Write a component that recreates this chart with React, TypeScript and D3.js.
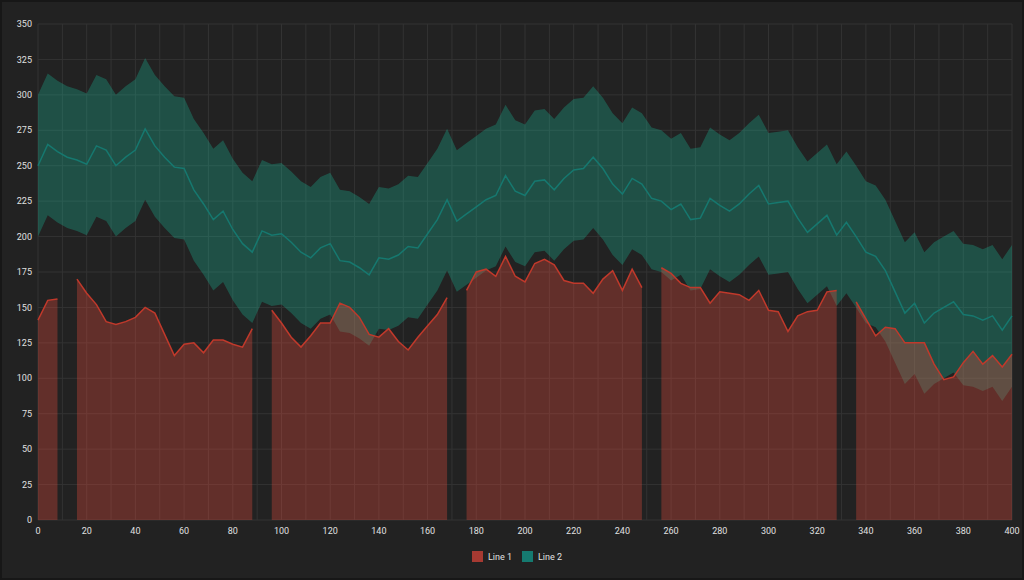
import React, { useEffect, useRef } from "react";
import * as d3 from "d3";

// x runs 0..400 in steps of 4
const xValues: number[] = d3.range(0, 401, 4);

// Line 1 (null = gap)
const line1: (number | null)[] = [
  141, 155, 156, null, 170, 160, 152, 140, 138, 140, 143, 150, 146, 131, 116, 124, 125, 118, 127, 127,
  124, 122, 135, null, 148, 139, 129, 122, 130, 139, 139, 153, 150, 143, 131, 129, 135, 126, 120, 129,
  137, 145, 157, null, 162, 175, 177, 172, 186, 172, 168, 181, 184, 180, 169, 167, 167, 160, 170, 176,
  162, 177, 164, null, 178, 174, 167, 164, 164, 153, 161, 160, 159, 155, 162, 148, 147, 133, 144, 147,
  148, 161, 162, null, 154, 142, 130, 136, 135, 125, 125, 125, 110, 99, 101, 111, 119, 110, 116, 108,
  117,
];

// Line 2 centre; band is centre ± bandWidth
const line2: number[] = [
  250, 265, 260, 256, 254, 251, 264, 261, 250, 256, 261, 276, 264, 256, 249, 248, 233, 223, 212, 218,
  205, 195, 189, 204, 201, 202, 196, 189, 185, 192, 195, 183, 182, 178, 173, 185, 184, 187, 193, 192,
  202, 212, 226, 211, 216, 221, 226, 229, 243, 232, 229, 239, 240, 233, 241, 247, 248, 256, 248, 237,
  230, 241, 237, 227, 225, 219, 223, 212, 213, 227, 222, 218, 223, 230, 236, 223, 224, 225, 213, 203,
  209, 215, 201, 210, 200, 189, 186, 176, 161, 146, 153, 139, 146, 150, 154, 145, 144, 141, 144, 134,
  144,
];
const bandWidth = 50;

const xTicks: number[] = d3.range(0, 401, 20);
const yTicks: number[] = d3.range(0, 351, 25);

const W = 1024;
const H = 580;
const M = { left: 38, right: 12, top: 24, bottom: 60 };

const App: React.FC = () => {
  const svgRef = useRef<SVGSVGElement>(null);

  useEffect(() => {
    const svg = d3.select(svgRef.current);
    svg.selectAll("*").remove();

    const x = d3.scaleLinear().domain([0, 400]).range([M.left, W - M.right]);
    const y = d3.scaleLinear().domain([0, 350]).range([H - M.bottom, M.top]);

    svg.append("rect").attr("width", W).attr("height", H).attr("fill", "#171717");
    svg.append("rect").attr("x", 2).attr("y", 2).attr("width", W - 4).attr("height", H - 4).attr("fill", "#222222");

    const grid = svg.append("g").attr("stroke", "#333333").attr("stroke-width", 1);
    d3.range(0, 401, 10).forEach((v) => {
      grid.append("line").attr("x1", x(v)).attr("x2", x(v)).attr("y1", y(0)).attr("y2", y(350));
    });
    yTicks.forEach((v) => {
      grid.append("line").attr("x1", x(0)).attr("x2", x(400)).attr("y1", y(v)).attr("y2", y(v));
    });

    const band = d3
      .area<number>()
      .x((_, i) => x(xValues[i]))
      .y0((d) => y(d - bandWidth))
      .y1((d) => y(d + bandWidth));
    svg.append("path").datum(line2).attr("d", band).attr("fill", "rgba(26,188,156,0.3)");

    const centre = d3
      .line<number>()
      .x((_, i) => x(xValues[i]))
      .y((d) => y(d));
    svg.append("path").datum(line2).attr("d", centre).attr("fill", "none").attr("stroke", "#16786f").attr("stroke-width", 1.5);

    const area1 = d3
      .area<number | null>()
      .defined((d) => d !== null)
      .x((_, i) => x(xValues[i]))
      .y0(y(0))
      .y1((d) => y(d as number));
    svg.append("path").datum(line1).attr("d", area1).attr("fill", "rgba(231,76,60,0.33)");

    const l1 = d3
      .line<number | null>()
      .defined((d) => d !== null)
      .x((_, i) => x(xValues[i]))
      .y((d) => y(d as number));
    svg.append("path").datum(line1).attr("d", l1).attr("fill", "none").attr("stroke", "#c0392b").attr("stroke-width", 1.5);

    const font = "Roboto, sans-serif";
    svg
      .append("g")
      .selectAll("text")
      .data(yTicks)
      .enter()
      .append("text")
      .attr("x", M.left - 6)
      .attr("y", (d) => y(d))
      .attr("dy", "0.35em")
      .attr("text-anchor", "end")
      .attr("fill", "#e0e0e0")
      .attr("font-family", font)
      .attr("font-size", 9)
      .text((d) => d);
    svg
      .append("g")
      .selectAll("text")
      .data(xTicks)
      .enter()
      .append("text")
      .attr("x", (d) => x(d))
      .attr("y", y(0) + 14)
      .attr("text-anchor", "middle")
      .attr("fill", "#e0e0e0")
      .attr("font-family", font)
      .attr("font-size", 9)
      .text((d) => d);

    const legend = [
      { name: "Line 1", color: "#a63a32", x: 472 },
      { name: "Line 2", color: "#157a70", x: 522 },
    ];
    legend.forEach((l) => {
      svg.append("rect").attr("x", l.x).attr("y", 551).attr("width", 11).attr("height", 11).attr("fill", l.color);
      svg
        .append("text")
        .attr("x", l.x + 16)
        .attr("y", 560)
        .attr("fill", "#e0e0e0")
        .attr("font-family", font)
        .attr("font-size", 9)
        .text(l.name);
    });
  }, []);

  return <svg ref={svgRef} width={W} height={H} style={{ position: "absolute", left: 0, top: 0 }} />;
};

export default App;
